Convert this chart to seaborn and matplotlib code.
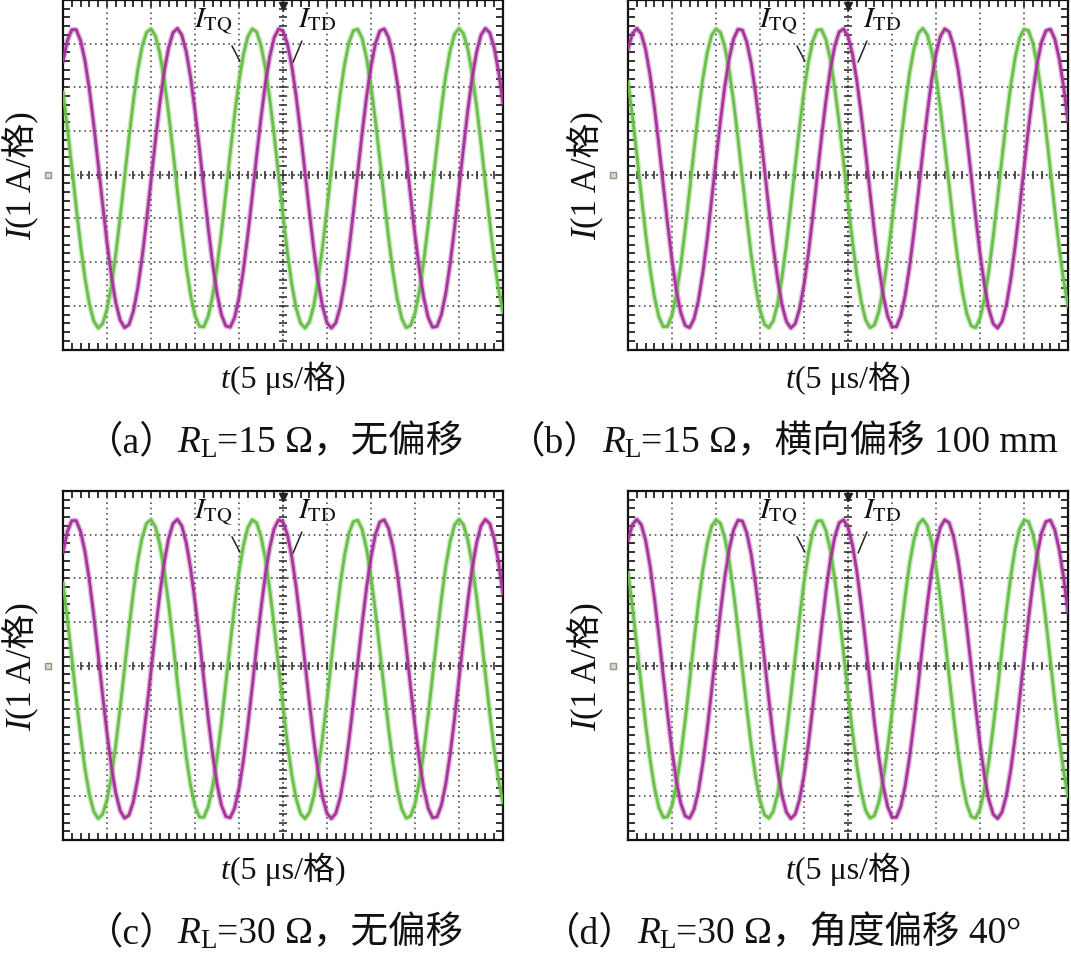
import numpy as np
import matplotlib
matplotlib.use('Agg')
import matplotlib.pyplot as plt
import seaborn as sns
from matplotlib.ticker import MultipleLocator
from matplotlib.font_manager import FontProperties
from matplotlib.transforms import IdentityTransform

# time axis in screen divisions (5 us/div), one reading every 0.1 div
t = np.round(np.arange(0, 10.001, 0.1), 2)

# currents read off the scope screens, in divisions (1 A/div)
# left column (a, c): no offset
td_left = [2.60, 3.07, 3.32, 3.32, 3.07, 2.61, 1.95, 1.14, 0.24, -0.67,
           -1.55, -2.32, -2.93, -3.33, -3.50, -3.43, -3.12, -2.59, -1.88, -1.04,
           -0.13, 0.78, 1.63, 2.36, 2.91, 3.25, 3.35, 3.20, 2.82, 2.23,
           1.47, 0.61, -0.31, -1.21, -2.03, -2.71, -3.20, -3.46, -3.49, -3.27,
           -2.82, -2.18, -1.38, -0.50, 0.42, 1.30, 2.09, 2.71, 3.14, 3.34,
           3.29, 3.00, 2.49, 1.79, 0.96, 0.06, -0.85, -1.71, -2.45, -3.02,
           -3.39, -3.51, -3.39, -3.03, -2.46, -1.71, -0.86, 0.06, 0.96, 1.79,
           2.48, 3.00, 3.29, 3.34, 3.14, 2.72, 2.09, 1.31, 0.43, -0.49,
           -1.38, -2.17, -2.82, -3.27, -3.49, -3.47, -3.20, -2.71, -2.03, -1.21,
           -0.31, 0.60, 1.47, 2.22, 2.81, 3.20, 3.35, 3.25, 2.91, 2.36, 1.64]
tq_left = [1.89, 1.07, 0.17, -0.74, -1.61, -2.37, -2.96, -3.35, -3.51, -3.41,
           -3.08, -2.54, -1.81, -0.97, -0.06, 0.85, 1.69, 2.41, 2.94, 3.26,
           3.34, 3.18, 2.78, 2.18, 1.41, 0.54, -0.38, -1.27, -2.09, -2.75,
           -3.22, -3.47, -3.48, -3.24, -2.78, -2.12, -1.32, -0.42, 0.49, 1.37,
           2.14, 2.75, 3.16, 3.34, 3.27, 2.96, 2.44, 1.73, 0.90, -0.01,
           -0.92, -1.78, -2.51, -3.06, -3.40, -3.51, -3.37, -2.99, -2.40, -1.65,
           -0.79, 0.13, 1.03, 1.85, 2.53, 3.03, 3.30, 3.33, 3.12, 2.67,
           2.03, 1.24, 0.36, -0.56, -1.45, -2.23, -2.86, -3.29, -3.50, -3.45,
           -3.17, -2.66, -1.97, -1.14, -0.24, 0.67, 1.53, 2.28, 2.85, 3.22,
           3.35, 3.23, 2.88, 2.31, 1.57, 0.72, -0.20, -1.10, -1.93, -2.63, -3.15]
# right column (b, d): with offset
td_right = [2.87, 3.23, 3.35, 3.23, 2.87, 2.29, 1.55, 0.70, -0.22, -1.12,
            -1.95, -2.65, -3.16, -3.45, -3.50, -3.30, -2.88, -2.25, -1.47, -0.58,
            0.33, 1.22, 2.02, 2.66, 3.11, 3.33, 3.31, 3.04, 2.55, 1.87,
            1.05, 0.15, -0.77, -1.63, -2.39, -2.98, -3.36, -3.51, -3.41, -3.07,
            -2.52, -1.80, -0.95, -0.03, 0.87, 1.71, 2.42, 2.95, 3.27, 3.34,
            3.17, 2.77, 2.16, 1.39, 0.52, -0.40, -1.30, -2.10, -2.76, -3.23,
            -3.48, -3.48, -3.23, -2.76, -2.10, -1.30, -0.40, 0.52, 1.39, 2.16,
            2.77, 3.17, 3.34, 3.27, 2.95, 2.42, 1.71, 0.87, -0.03, -0.95,
            -1.80, -2.52, -3.07, -3.41, -3.51, -3.36, -2.98, -2.39, -1.63, -0.77,
            0.15, 1.05, 1.87, 2.55, 3.04, 3.30, 3.33, 3.11, 2.66, 2.02, 1.22]
tq_right = [2.13, 1.35, 0.47, -0.45, -1.34, -2.14, -2.79, -3.25, -3.48, -3.47,
            -3.21, -2.74, -2.07, -1.25, -0.36, 0.56, 1.43, 2.19, 2.79, 3.19,
            3.34, 3.26, 2.93, 2.39, 1.67, 0.83, -0.08, -0.99, -1.83, -2.55,
            -3.09, -3.42, -3.50, -3.35, -2.95, -2.35, -1.59, -0.72, 0.20, 1.09,
            1.91, 2.58, 3.06, 3.31, 3.32, 3.09, 2.63, 1.98, 1.18, 0.29,
            -0.63, -1.51, -2.29, -2.90, -3.32, -3.50, -3.44, -3.14, -2.61, -1.91,
            -1.08, -0.17, 0.74, 1.59, 2.33, 2.89, 3.24, 3.35, 3.21, 2.84,
            2.26, 1.51, 0.65, -0.26, -1.17, -1.99, -2.68, -3.18, -3.46, -3.50,
            -3.29, -2.85, -2.21, -1.42, -0.54, 0.38, 1.26, 2.05, 2.69, 3.13,
            3.33, 3.30, 3.02, 2.52, 1.83, 1.01, 0.10, -0.81, -1.67, -2.42, -3.00]

panels = ['a', 'b', 'c', 'd']
traces = {'a': (td_left, tq_left), 'b': (td_right, tq_right),
          'c': (td_left, tq_left), 'd': (td_right, tq_right)}
# caption pieces: (text, kind)  kind: n normal, i italic, sub subscript
captions = {
    'a': [('（a）', 'n'), ('R', 'i'), ('L', 'sub'), ('=15 Ω，无偏移', 'n')],
    'b': [('（b）', 'n'), ('R', 'i'), ('L', 'sub'), ('=15 Ω，横向偏移 100 mm', 'n')],
    'c': [('（c）', 'n'), ('R', 'i'), ('L', 'sub'), ('=30 Ω，无偏移', 'n')],
    'd': [('（d）', 'n'), ('R', 'i'), ('L', 'sub'), ('=30 Ω，角度偏移 40°', 'n')],
}
ylabel = [('I', 'i'), ('(1 A/格)', 'n')]
xlabel = [('t', 'i'), ('(5 μs/格)', 'n')]

TD_COLOR = '#A5359A'
TQ_COLOR = '#6ABF4B'

sns.set_theme(style='white')
fam = ['Liberation Serif', 'Noto Sans CJK SC', 'DejaVu Sans']
plt.rcParams['font.family'] = fam
plt.rcParams['mathtext.fontset'] = 'stix'

W, H = 1071, 954
fig = plt.figure(figsize=(W / 100, H / 100), dpi=100)
fig.patch.set_facecolor('white')
renderer = fig.canvas.get_renderer()


def advance(s, fp):
    w1 = renderer.get_text_width_height_descent('|' + s + '|', fp, ismath=False)[0]
    w0 = renderer.get_text_width_height_descent('||', fp, ismath=False)[0]
    return w1 - w0


def run_text(pieces, size, x, y, rotation=0, center=False):
    # (x, y): pixel position of the baseline start, y counted from the top
    items = []
    total = 0.0
    for s, kind in pieces:
        fs = size * 0.72 if kind == 'sub' else size
        fp = FontProperties(family=fam, size=fs,
                            style='italic' if kind == 'i' else 'normal')
        a = advance(s, fp)
        items.append((s, fp, a, kind))
        total += a
    pos = -total / 2 if center else 0.0
    for s, fp, a, kind in items:
        drop = size * 100 / 72 * 0.13 if kind == 'sub' else 0
        if rotation == 0:
            px, py = x + pos, H - y - drop
        else:
            px, py = x + drop, H - y + pos
        fig.text(px, py, s, fontproperties=fp, ha='left', va='baseline',
                 rotation=rotation, rotation_mode='anchor',
                 transform=IdentityTransform(), color='#111111')
        pos += a


# axes boxes in pixels: left, top, width, height
boxes = {'a': (63, 1, 440, 349.5), 'b': (628, 1, 440, 349.5),
         'c': (63, 492, 440, 349), 'd': (628, 492, 440, 349)}
cap_pos = {'a': (86, 452), 'b': (508, 452), 'c': (86, 943), 'd': (543, 943)}

minor = np.round(np.arange(0.2, 10.0, 0.2), 2)
minor_y = np.round(np.arange(-3.8, 4.0, 0.2), 2)

for p in panels:
    x0, y0, w, h = boxes[p]
    ax = fig.add_axes([x0 / W, 1 - (y0 + h) / H, w / W, h / H])
    td, tq = traces[p]

    # graticule
    for gx in range(1, 10):
        if gx != 5:
            ax.axvline(gx, color='#555555', lw=1.2, ls=(0, (1, 2.2)), zorder=1)
    for gy in range(-3, 4):
        if gy != 0:
            ax.axhline(gy, color='#555555', lw=1.2, ls=(0, (1, 2.2)), zorder=1)
    ax.axhline(0, color='#444444', lw=1.3, ls=(0, (1, 1.6)), zorder=1)
    ax.axvline(5, color='#444444', lw=1.3, ls=(0, (1, 1.6)), zorder=1)
    ax.plot(minor, np.zeros_like(minor), ls='none', marker='|', ms=6,
            mew=1.2, color='#333333', zorder=1)
    ax.plot(np.full_like(minor_y, 5.0), minor_y, ls='none', marker='_', ms=6,
            mew=1.2, color='#333333', zorder=1)

    # traces
    for vals, col in ((tq, TQ_COLOR), (td, TD_COLOR)):
        sns.lineplot(x=t, y=vals, ax=ax, color=col, lw=4.0, alpha=0.35, zorder=3)
        sns.lineplot(x=t, y=vals, ax=ax, color=col, lw=2.0, zorder=4)

    ax.set_xlim(0, 10)
    ax.set_ylim(-4, 4)
    ax.xaxis.set_major_locator(MultipleLocator(1))
    ax.xaxis.set_minor_locator(MultipleLocator(0.2))
    ax.yaxis.set_major_locator(MultipleLocator(1))
    ax.yaxis.set_minor_locator(MultipleLocator(0.2))
    ax.tick_params(which='both', direction='in', top=True, right=True,
                   bottom=True, left=True, length=5, width=1.2, color='#111111',
                   labelbottom=False, labelleft=False)
    ax.set_xlabel('')
    ax.set_ylabel('')
    for s in ax.spines.values():
        s.set_color('#111111')
        s.set_linewidth(1.6)

    # trigger and channel markers
    ax.plot([5], [3.86], marker='v', ms=6, color='#222222', clip_on=False, zorder=5)
    ax.plot([-0.33], [0], marker='s', ms=4.5, mfc='#d5dccd', mec='#8c9a84',
            mew=1, clip_on=False, zorder=5)

    # trace labels
    ax.text(2.98, 3.40, '$I_{\\mathrm{TQ}}$', fontsize=21, ha='left',
            va='baseline', color='#111111', zorder=6)
    ax.text(5.33, 3.40, '$I_{\\mathrm{TD}}$', fontsize=21, ha='left',
            va='baseline', color='#111111', zorder=6)
    ax.plot([3.84, 4.02], [2.95, 2.60], color='#222222', lw=1.1, zorder=6)
    ax.plot([5.43, 5.23], [3.06, 2.58], color='#222222', lw=1.1, zorder=6)

    # axis labels
    run_text(xlabel, 23, x0 + w / 2, y0 + h + 38, center=True)
    run_text(ylabel, 25, x0 - 32, y0 + h / 2, rotation=90, center=True)

    cx, cy = cap_pos[p]
    run_text(captions[p], 27, cx, cy)

fig.savefig('out.png', dpi=100, facecolor='white')
